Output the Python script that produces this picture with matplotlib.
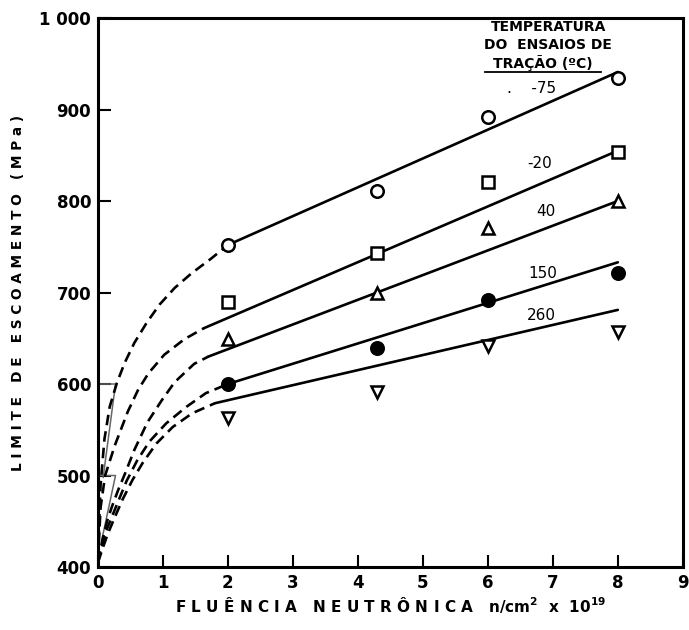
import matplotlib
matplotlib.use('Agg')
import matplotlib.pyplot as plt

plt.rcParams['font.family'] = ['DejaVu Sans']
plt.rcParams['mathtext.default'] = 'bf'

# temperaturas de ensaio (C)
temps = ['-75', '-20', '40', '150', '260']
markers = ['o', 's', '^', 'o', 'v']
filled = [False, False, False, True, False]

# pontos medidos
fluence = [2, 4.3, 6, 8]
y_m75 = [752, 811, 892, 934]
y_m20 = [690, 743, 821, 854]
y_40 = [649, 700, 770, 800]
y_150 = [600, 639, 692, 721]
y_260 = [563, 591, 642, 657]
meas = [y_m75, y_m20, y_40, y_150, y_260]

# retas ajustadas (inicio, fim)
fit_x = [(2.0, 8.0), (1.63, 8.0), (1.7, 8.0), (2.0, 8.0), (1.8, 8.0)]
fit_y = [(752, 941), (661, 855), (630, 800), (600, 733), (579, 681)]

# curvas extrapoladas (tracejadas)
dash_x = [
    [0.0, 0.04, 0.1, 0.18, 0.29, 0.41, 0.56, 0.75, 0.95, 1.18, 1.44, 1.74, 2.0],
    [0.0, 0.04, 0.11, 0.26, 0.46, 0.62, 0.78, 1.02, 1.33, 1.63],
    [0.0, 0.07, 0.14, 0.21, 0.31, 0.41, 0.56, 0.76, 0.98, 1.18, 1.48, 1.7],
    [0.0, 0.08, 0.14, 0.29, 0.44, 0.6, 0.79, 1.05, 1.36, 1.66, 2.0],
    [0.0, 0.08, 0.15, 0.25, 0.38, 0.53, 0.69, 0.9, 1.15, 1.45, 1.8],
]
dash_y = [
    [410, 490, 540, 575, 601, 623, 645, 667, 687, 705, 721, 737, 752],
    [408, 465, 500, 533, 570, 594, 612, 632, 649, 661],
    [406, 430, 450, 465, 484, 501, 528, 558, 582, 602, 622, 630],
    [405, 428, 442, 468, 494, 516, 537, 557, 575, 590, 600],
    [405, 422, 436, 453, 474, 495, 514, 535, 553, 568, 579],
]

# tracos de construcao junto ao eixo y
sketch_x = [0.0, 0.27, 0.08, 0.0, 0.27, 0.06]
sketch_y = [600, 600, 498, 500, 500, 430]

label_x = [6.8, 6.8, 6.9, 6.85, 6.82]
label_y = [923, 841, 788, 721, 675]

fig = plt.figure(figsize=(6.89, 6.30), dpi=100)
ax = fig.add_axes([0.1422, 0.1, 0.8488, 0.8714])

ax.plot(sketch_x[:3], sketch_y[:3], color='0.4', lw=1.1)
ax.plot(sketch_x[3:], sketch_y[3:], color='0.4', lw=1.1)

lw = 1.9
for i in range(len(temps)):
    ax.plot(fit_x[i], fit_y[i], color='black', lw=lw, solid_capstyle='round')
    ax.plot(dash_x[i], dash_y[i], color='black', lw=lw, dashes=(4, 2.3))
    fc = 'black' if filled[i] else 'white'
    ax.plot(fluence, meas[i], linestyle='none', marker=markers[i], ms=9,
            mfc=fc, mec='black', mew=1.8, zorder=5)
    if i == 0:
        ax.text(label_x[i] - 0.12, label_y[i], '.    -75', fontsize=11, ha='center', va='center')
    else:
        ax.text(label_x[i], label_y[i], temps[i], fontsize=11, ha='center', va='center')

ax.text(6.93, 990, 'TEMPERATURA', fontsize=10, fontweight='bold', ha='center', va='center')
ax.text(6.93, 970, 'DO  ENSAIOS DE', fontsize=10, fontweight='bold', ha='center', va='center')
ax.text(6.85, 951, 'TRAÇÃO (ºC)', fontsize=10, fontweight='bold', ha='center', va='center')
ax.plot([5.95, 7.74], [941, 941], color='black', lw=1.3)

ax.set_xlim(0, 9)
ax.set_ylim(400, 1000)
ax.set_xticks(range(0, 10))
ax.set_yticks(range(400, 1001, 100))
ax.set_yticklabels(['400', '500', '600', '700', '800', '900', '1 000'])
ax.tick_params(direction='in', length=9, width=1.5, labelsize=12, pad=5)
for lab in ax.get_xticklabels() + ax.get_yticklabels():
    lab.set_fontweight('bold')
for s in ax.spines.values():
    s.set_linewidth(2.2)

ax.set_xlabel('F L U Ê N C I A   N E U T R Ô N I C A   n/cm$^{2}$  x  10$^{19}$',
              fontsize=11, fontweight='bold', labelpad=2)
ax.set_ylabel('L I M I T E   D E   E S C O A M E N T O   ( M P a )',
              fontsize=9.8, fontweight='heavy', labelpad=10)

fig.savefig('out.png', dpi=100)
